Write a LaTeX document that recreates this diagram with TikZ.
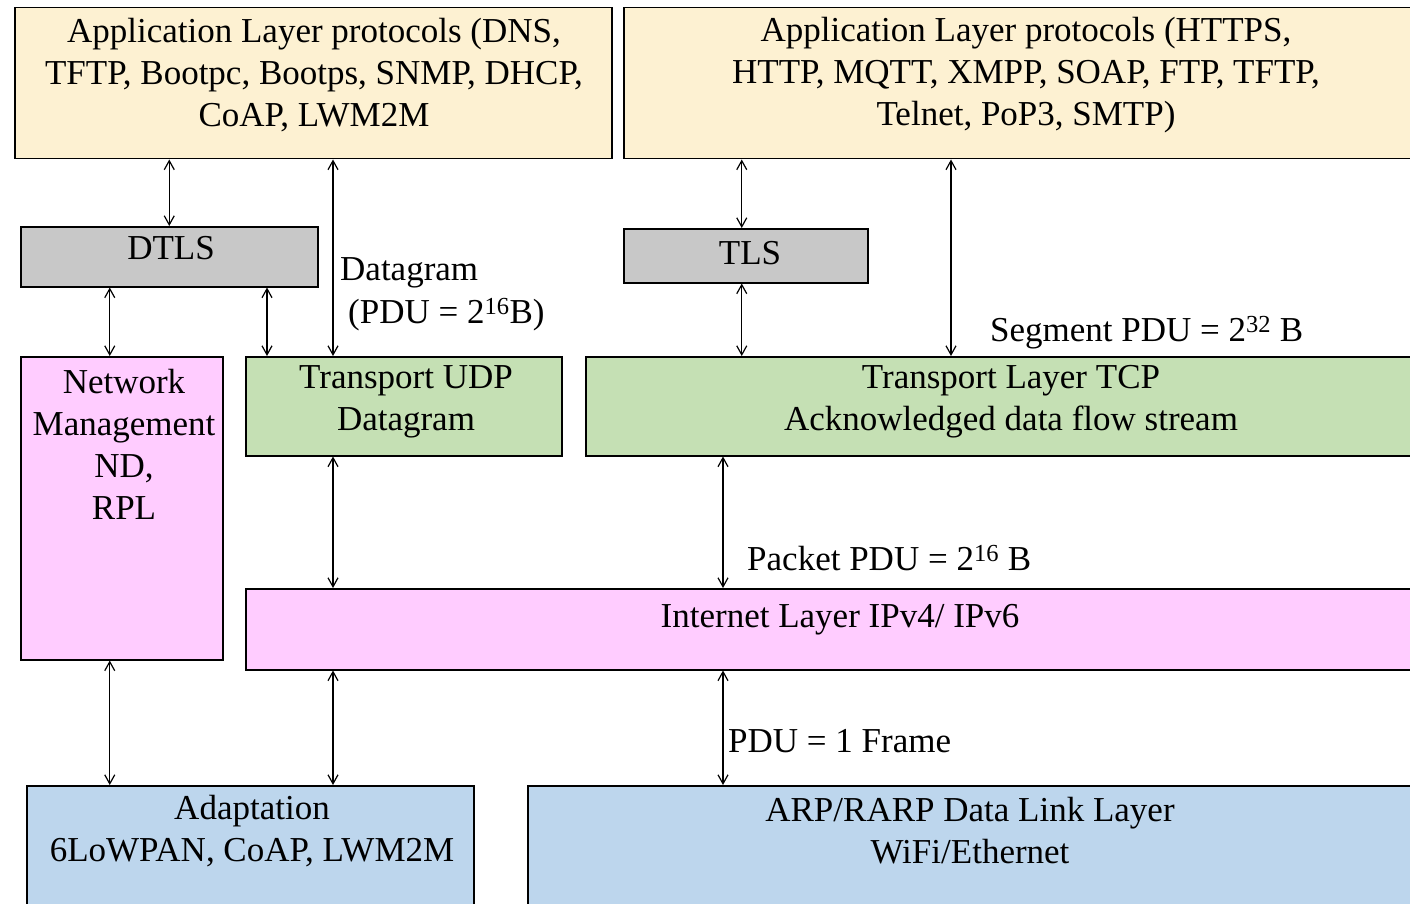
\documentclass[tikz,border=0pt]{standalone}
\usepackage{fontspec}
\setmainfont{Liberation Serif}
\usetikzlibrary{arrows.meta}
\definecolor{beige}{RGB}{253,241,210}
\definecolor{greybox}{RGB}{200,200,200}
\definecolor{pinkbox}{RGB}{255,204,255}
\definecolor{greenbox}{RGB}{197,224,180}
\definecolor{bluebox}{RGB}{189,214,237}
\tikzset{
  box/.style={draw=black, line width=1.5pt, anchor=north west, inner sep=0pt},
  txt/.style={align=center, font=\fontsize{35}{42}\selectfont, inner sep=0pt},
  lbl/.style={anchor=west, font=\fontsize{35}{42}\selectfont, inner sep=0pt},
  arr/.style={{Straight Barb[length=9pt,width=10pt]}-{Straight Barb[length=9pt,width=10pt]}, line width=1.2pt},
}
\begin{document}
\begin{tikzpicture}[x=1pt,y=-1pt]
\useasboundingbox (0,0) rectangle (1410,904);
\clip (0,0) rectangle (1410,904);
% boxes
\node[box, fill=beige, minimum width=597pt, minimum height=151pt] (app1) at (14,7) {};
\node[box, fill=beige, minimum width=810pt, minimum height=151pt] (app2) at (623,7) {};
\node[box, fill=greybox, minimum width=297pt, minimum height=60pt] (dtls) at (20,226) {};
\node[box, fill=greybox, minimum width=244pt, minimum height=54pt] (tls) at (623,228) {};
\node[box, fill=pinkbox, minimum width=202pt, minimum height=303pt] (nm) at (20,356) {};
\node[box, fill=greenbox, minimum width=316pt, minimum height=99pt] (udp) at (245,356) {};
\node[box, fill=greenbox, minimum width=852pt, minimum height=99pt] (tcp) at (585,356) {};
\node[box, fill=pinkbox, minimum width=1190pt, minimum height=81pt] (inet) at (245,588) {};
\node[box, fill=bluebox, minimum width=447pt, minimum height=140pt] (adapt) at (26,785) {};
\node[box, fill=bluebox, minimum width=886pt, minimum height=140pt] (arp) at (527,785) {};
% texts
\node[txt] (app1t) at (314,75) {Application Layer protocols (DNS,\\TFTP, Bootpc, Bootps, SNMP, DHCP,\\CoAP, LWM2M};
\node[txt] (app2t) at (1026,75) {Application Layer protocols (HTTPS,\\HTTP, MQTT, XMPP, SOAP, FTP, TFTP,\\Telnet, PoP3, SMTP)};
\node[txt] (dtlst) at (171,248) {DTLS};
\node[txt] (tlst) at (750,253) {TLS};
\node[txt] (nmt) at (124,444) {Network\\Management\\ND,\\RPL};
\node[txt] (udpt) at (406,402) {Transport UDP\\Datagram};
\node[txt] (tcpt) at (1011,402) {Transport Layer TCP\\Acknowledged data flow stream};
\node[txt] (inett) at (840,620) {Internet Layer IPv4/ IPv6};
\node[txt] (adaptt) at (252,831) {Adaptation\\6LoWPAN, CoAP, LWM2M};
\node[txt] (arpt) at (970,831) {ARP/RARP Data Link Layer\\WiFi/Ethernet};
% labels
\node[lbl] (l1) at (340,273) {Datagram};
\node[lbl] (l2) at (348,315) {(PDU = 2\textsuperscript{16}B)};
\node[lbl] (l3) at (990,333) {Segment PDU = 2\textsuperscript{32} B};
\node[lbl] (l4) at (747,558) {Packet PDU = 2\textsuperscript{16} B};
\node[lbl] (l5) at (728,741) {PDU = 1 Frame};
% connectors
\draw[arr] (dtls.north) -- (dtls.north |- app1.south);
\draw[arr] ([xshift=88pt]udp.north west) -- ([xshift=88pt]udp.north west |- app1.south);
\draw[arr] ([xshift=-12pt]nm.north) -- ([xshift=-12pt]nm.north |- dtls.south);
\draw[arr] ([xshift=22pt]udp.north west) -- ([xshift=22pt]udp.north west |- dtls.south);
\draw[arr] ([xshift=-4pt]tls.north) -- ([xshift=-4pt]tls.north |- app2.south);
\draw[arr] ([xshift=-4pt]tls.south) -- ([xshift=-4pt]tls.south |- tcp.north);
\draw[arr] ([xshift=366pt]tcp.north west) -- ([xshift=366pt]tcp.north west |- app2.south);
\draw[arr] ([xshift=88pt]udp.south west) -- ([xshift=88pt]udp.south west |- inet.north);
\draw[arr] ([xshift=138pt]tcp.south west) -- ([xshift=138pt]tcp.south west |- inet.north);
\draw[arr] ([xshift=-12pt]nm.south) -- ([xshift=-12pt]nm.south |- adapt.north);
\draw[arr] ([xshift=88pt]inet.south west) -- ([xshift=88pt]inet.south west |- adapt.north);
\draw[arr] ([xshift=478pt]inet.south west) -- ([xshift=478pt]inet.south west |- arp.north);
\end{tikzpicture}
\end{document}
